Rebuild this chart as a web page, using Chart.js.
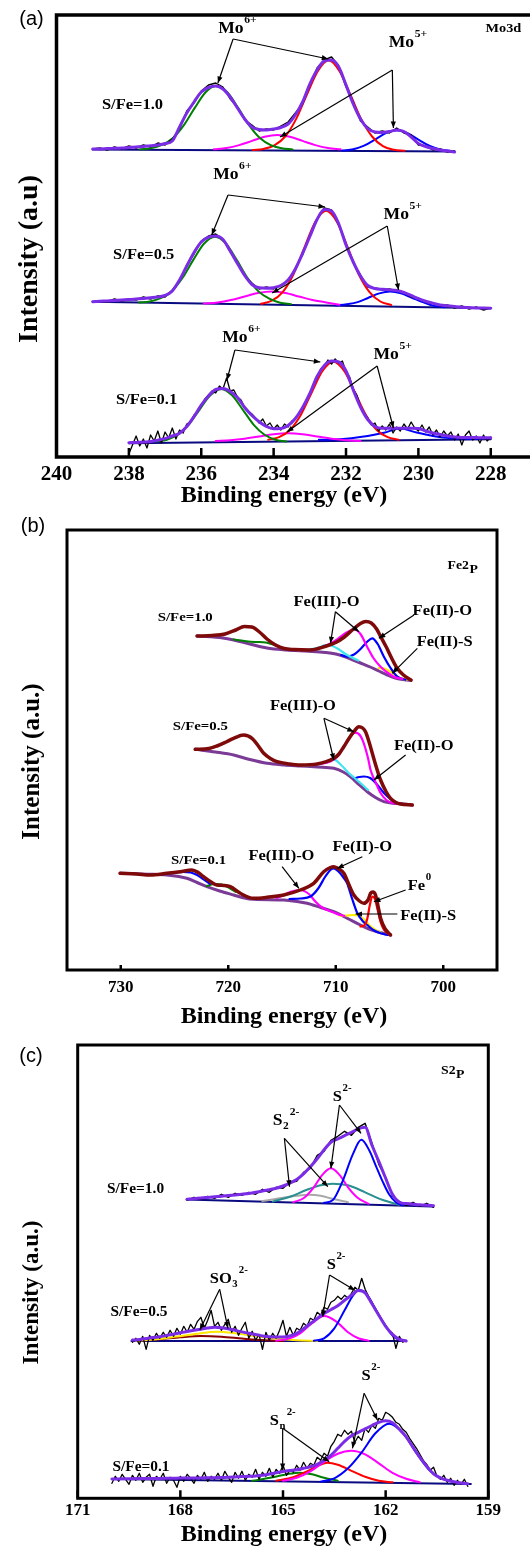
<!DOCTYPE html>
<html>
<head>
<meta charset="utf-8">
<script src="https://cdn.jsdelivr.net/npm/chart.js@4.4.1/dist/chart.umd.min.js"></script>
<style>
html, body { margin:0; padding:0; background:#fff; overflow:hidden; width:530px; height:1550px; }
.panel { position:absolute; left:0; }
</style>
</head>
<body>
<div class="panel" style="top:0;width:540px;height:510px"><canvas id="ca"></canvas></div>
<div class="panel" style="top:500px;width:530px;height:540px"><canvas id="cb"></canvas></div>
<div class="panel" style="top:1040px;width:530px;height:510px"><canvas id="cc"></canvas></div>
<script>
// ---------- (a) Mo3d ----------
var aTicks = [240, 238, 236, 234, 232, 230, 228];
// noisy spectra + envelopes, sampled on a fixed energy step from the start energy
var a1Start = 239.0;
var a1Data = [308,309,307,310,308,311,309,312,310,314,312,318,328,346,354,366,372,374,370,358,350,337,332,326,328,327,331,335,344,353,372,389,397,400,391,370,355,336,330,324,326,324,329,324,322,312,311,307,308,305,306];
var a1Env = [308,308,308.5,308.7,309,309.5,310,310.5,311.3,312,313.5,316,330,344,355,365,369.5,371,368,360,349,338,330,327.5,327,328,329.5,333,342,355,373,387,396,397,390,372,353,338,328.5,325,324.5,325.5,327,325.5,320,313.5,310.5,308.5,307,306,305];
var a1Base = [[239.0,307.5],[229.0,305.5]];
var a1Green = [[237.7,307.6],[237.4,308.7],[237.1,311.8],[236.78,318.9],[236.48,331.8],[236.18,349.1],[235.88,364.8],[235.58,371.3],[235.28,364.8],[234.98,349.1],[234.68,331.8],[234.38,318.9],[234.08,311.8],[233.78,308.7],[233.48,307.6]];
var a1Red = [[234.58,307.1],[234.28,308.1],[233.98,311.6],[233.68,320.5],[233.38,337.9],[233.08,362.5],[232.78,385.9],[232.48,396.8],[232.18,385.9],[231.88,362.5],[231.58,337.9],[231.28,320.5],[230.98,310.8],[230.68,307.3],[230.38,306.3]];
var a1Mag = [[235.65,307.7],[235.3,309],[234.95,311.9],[234.6,316.1],[234.25,320.2],[233.9,322],[233.55,320.2],[233.2,316.1],[232.85,311.9],[232.5,309],[232.15,307.7]];
var a1Blue = [[232.1,306.5],[231.8,307.8],[231.5,311.3],[231.2,317.4],[230.9,323.9],[230.6,326.8],[230.3,323.9],[230.0,317.4],[229.7,311.3],[229.4,307.6],[229.1,306]];

var a2Start = 239.0;
var a2Data = [155,156,155,158,156,158,157,160,158,161,160,167,176,192,203,216,221,223,218,205,194,181,174,168,170,168,172,176,189,202,222,238,249,247,232,213,194,182,170,169,167,168,166,165,160,159,155,154,151,152,149,151,148,150,147,149];
var a2Env = [155.3,155.7,156.1,156.5,157,157.4,158,158.6,159.3,160.1,161.5,166,177,191,204.5,215,219.8,221,217.5,206,193.5,181.5,172.5,169.2,168.8,169.3,171.5,177,188,203.5,220.5,237.5,247.5,246,233,212,195,181,171.5,168.5,167.7,167.2,166.5,164.5,161.5,158.3,155.8,153.8,152,151.2,150.4,149.7,149.4,149.1,148.9,148.7];
var a2Base = [[239.0,155.3],[228.0,148.7]];
var a2Green = [[237.72,154.6],[237.42,155.6],[237.12,158.8],[236.82,165.6],[236.52,179.0],[236.22,197.1],[235.92,213.5],[235.62,220.3],[235.32,213.5],[235.02,197.1],[234.72,179.0],[234.42,165.6],[234.12,158.3],[233.82,154.3],[233.52,152.8]];
var a2Red = [[234.35,153.2],[234.05,156.3],[233.75,164.9],[233.45,182.8],[233.15,209.3],[232.85,235.1],[232.55,246.2],[232.25,235.1],[231.95,209.3],[231.65,182.8],[231.35,164.9],[231.05,155.5],[230.75,152]];
var a2Mag = [[235.93,153.4],[235.55,154.6],[235.18,157.0],[234.8,160.5],[234.43,163.9],[234.05,165.4],[233.68,163.9],[233.3,160.5],[232.93,157.0],[232.55,154.6],[232.18,152.2]];
var a2Blue = [[232.28,151.5],[231.98,152.8],[231.68,154.9],[231.38,159.3],[231.08,163.6],[230.78,165.4],[230.48,163.6],[230.18,159.3],[229.88,154.9],[229.58,151.2],[229.28,149.8]];

var a3Start = 238.0;
var a3Data = [3,12,21,11,18,9,22,16,26,14,
	25,19,29,18,27,24,33,35,42,45,
	51,58,62,66,64,71,68,79,66,67,
	60,57,50,46,43,39,34,38,31,34,
	28,32,27,33,30,36,38,44,48,57,
	63,72,79,88,91,97,93,98,94,96,
	85,80,68,62,51,44,39,32,34,26,
	31,27,33,24,30,26,33,28,35,29,
	26,32,25,30,22,27,20,26,21,25,
	17,23,12,22,26,17,21,14,22,16,
	20];
var a3Env = [14.3,14.6,15,15.4,16.8,18.4,21,23.7,30.5,40.5,52,61,67.5,68.5,65.5,59.5,49.5,41.5,35.3,30.5,28.3,28.5,31.5,38.5,49.5,63.5,80.5,91.5,96,95,86,67,50,37.5,30.5,28.7,28.7,28.7,28.7,28.7,28.5,26,24,22.5,21,20,19.6,19.5,19.4,19.3,19.3];
var a3Base = [[238.0,13.7],[228.0,17.7]];
var a3Green = [[237.25,15.6],[236.95,17.3],[236.65,22.2],[236.35,32.2],[236.05,47.2],[235.75,61.7],[235.45,68],[235.15,61.7],[234.85,47.2],[234.55,32.2],[234.25,22.2],[233.95,17.3],[233.65,15.6]];
var a3Red = [[234.15,17.2],[233.85,19.8],[233.55,27],[233.25,42],[232.95,64.3],[232.65,86],[232.35,95.3],[232.05,86],[231.75,64.3],[231.45,42],[231.15,27],[230.85,19.8],[230.55,17.2]];
var a3Mag = [[235.6,16.1],[235.2,16.8],[234.8,18.3],[234.4,20.6],[234.0,22.8],[233.6,23.7],[233.2,22.8],[232.8,20.6],[232.4,18.3],[232.0,16.8],[231.6,16.1]];
var a3Blue = [[232.75,17.3],[232.3,17.6],[231.85,18.8],[231.4,20.9],[230.95,24.2],[230.5,28.5],[230.05,24.4],[229.6,21.1],[229.15,19.1],[228.7,18.3],[228.25,18.0]];

// ---------- (b) Fe2p ----------
var bTicks = [730, 720, 710, 700];
var b1Env = [[722.9,334],[721.5,334.5],[720.3,336],[719.3,340],[718.5,343.5],[717.8,343],[717.1,338],[716.4,331],[715.6,325],[714.8,321.5],[713.9,320.5],[712.4,320],[711.0,323.5],[710.0,327.5],[709.2,333],[708.4,340.5],[707.7,346.5],[707.2,348.5],[706.7,347],[706.2,341],[705.8,333],[705.3,323],[704.9,314],[704.3,302],[703.7,295],[703.0,290]];
var b1Base = [[722.9,334],[720.5,332],[719.5,330],[718,326],[716.4,322],[714.6,320],[712.5,318.7],[711,317.5],[710,316],[709.2,313.5],[708.5,310.5],[707.7,307],[706.8,303],[706,299],[705.2,295],[704.3,291.5],[703,289.5]];
var b1Green = [[719.5,330.5],[718.5,329],[717.5,328],[716.5,327.5],[715.7,325],[715,322],[714.2,320]];
var b1Cyan = [[713.5,319.3],[712.5,320.3],[711.6,322.5],[710.9,325],[710.3,324],[709.7,320.5],[709.1,316],[708.5,312.5],[707.9,309.5]];
var b1Mag = [[713.5,319.5],[712.5,320],[711.5,322],[710.5,326.5],[709.7,332],[709.0,337.5],[708.3,340.5],[707.7,336],[707.07,323],[706.5,312],[705.83,303.3],[705.2,297.5],[704.6,293.3],[703.8,291]];
var b1Blue = [[709.5,315],[708.93,313.3],[708.3,315.5],[707.7,321],[707.1,328],[706.6,331.7],[706.1,326],[705.52,313.3],[704.9,302],[704.27,293.3],[703.5,290.3]];
var b1Yellow = [[706.0,302],[705.5,301.5],[705.0,299],[704.5,295],[704.0,292],[703.4,290.3]];

var b2Env = [[723.07,220.7],[721.8,221.5],[721.05,224],[720.2,228],[719.5,231.7],[718.57,235],[717.79,231.7],[717.2,224],[716.7,216.7],[716.0,211],[715.46,208.3],[714.3,206],[713.29,205],[711.73,206],[710.18,211.7],[709.7,216],[709.25,223.3],[708.8,231],[708.32,238.3],[707.85,243.3],[707.5,242],[707.23,238.3],[706.9,228],[706.6,216.7],[706.2,202],[705.83,190],[705.3,178],[704.9,171.7],[704.4,167.5],[703.97,166],[702.88,165]];
var b2Base = [[723.07,220.7],[721.2,218],[719.5,215],[718,210.5],[716.39,206.7],[714.8,205],[713.29,204],[711.7,203],[710.18,201.7],[709.3,198],[708.63,193.3],[707.8,185],[707.07,178.3],[706.3,172.5],[705.52,168.3],[704.7,166.8],[703.97,166.3],[702.88,165]];
var b2Mag = [[712.5,205],[711.5,206],[710.5,208.5],[709.8,214],[709.2,224],[708.7,233],[708.16,237.3],[707.7,234],[707.39,226.7],[707.0,212],[706.76,200],[706.3,188],[705.83,177],[705.3,170],[704.75,167],[704,166.2]];
var b2Cyan = [[713,204.5],[712,205],[711,207.5],[710.2,210.7],[709.5,205],[708.8,197],[708.2,191.5],[707.6,186],[707,180]];
var b2Blue = [[708.3,191.5],[707.8,193],[707.39,193.5],[706.8,192],[706.2,186],[705.52,177],[704.9,171],[704.3,167],[703.5,165.5]];

var b3Env = [[730.06,96.7],[728.5,96],[727.26,95],[725.71,96.7],[724.47,98.3],[723.38,100],[722.8,97.5],[722.3,93.3],[721.6,88],[721.05,85],[720.4,84.5],[719.81,83.3],[718.88,76.7],[717.64,71.7],[716.39,72.7],[714.84,75],[713.29,80],[712.05,86.7],[711.12,98.3],[710.5,102.5],[710.18,103.3],[709.7,101],[709.25,96.7],[708.8,86],[708.32,75],[707.8,69],[707.39,66.7],[707.0,70],[706.76,76.7],[706.55,78],[706.3,75],[706.05,63],[705.83,51.7],[705.4,41],[704.9,35]];
var b3Base = [[730.06,96.7],[727.5,95.8],[725.71,95],[724.6,93.5],[723.85,91.7],[722.9,87.5],[721.98,83.3],[720.8,79],[719.5,75],[718.5,72],[717.64,70.7],[714.84,70],[713.6,68.5],[712.67,66.7],[711.4,62.5],[710.18,58.3],[708.9,51.5],[707.7,45],[706.9,41],[706.14,38.3],[704.9,35]];
var b3Sat = [[726.3,95.5],[725.6,96.5],[724.9,97.5],[724.2,98],[723.5,97.5],[722.9,95],[722.3,90.5],[721.7,86]];
var b3Green = [[722.0,84],[721.3,86],[720.6,85.5],[719.9,82],[719.3,78]];
var b3Mag = [[715.5,72],[714.8,75],[714.2,78.3],[713.3,80],[712.5,76],[711.9,68.5],[711.4,63.5],[710.8,60],[710.2,57.5],[709.6,55],[709.2,54.2]];
var b3Blue = [[714.3,71],[713.3,71.5],[712.35,73.5],[711.6,82],[711,93],[710.5,100],[710.18,101.7],[709.7,98],[709.25,92],[708.94,86.7],[708.5,72],[708.0,57],[707.5,49],[707.07,45],[706.5,40],[705.83,36.7],[705.2,35]];
var b3Yellow = [[709.6,54],[709.0,54.5],[708.4,55],[707.9,54.5],[707.4,51],[706.9,45],[706.3,40],[705.8,37]];
var b3Red = [[707.7,43.5],[707.3,45],[707.05,52],[706.85,64],[706.6,73.5],[706.35,71],[706.1,60],[705.8,47],[705.5,40],[705.1,36]];

// ---------- (c) S2p ----------
var cTicks = [171, 168, 165, 162, 159];
var c1Start = 167.8;
var c1Data = [298,301,299,302,300,304,301,305,303,306,304,309,306,311,310,316,317,326,330,343,347,358,362,367,363,371,375,355,334,321,302,297,293,296,292,295,291];
var c1Env = [299,299.6,300.3,300.9,301.5,302,302.7,303.4,304.1,304.9,306,307.3,308.6,310,312.3,315.2,318.8,324.5,331.5,339.5,348.5,356,359.3,362.7,366,369.5,371,353,337,320,304,296,294.7,294,293.5,293,292.6];
var c1Base = [[167.82,298.8],[160.63,291.8]];
var c1Blue = [[163.8,295.5],[163.55,298],[163.26,317],[162.96,344],[162.71,358.5],[162.48,348],[162.28,332],[162.09,317],[161.9,304],[161.7,296],[161.5,293]];
var c1Mag = [[164.7,296.2],[164.4,300],[164.1,311],[163.85,323.5],[163.6,330],[163.35,323.5],[163.1,311],[162.8,300],[162.5,294.5]];
var c1Teal = [[165.3,296.7],[164.8,301.5],[164.3,308.5],[163.9,313],[163.55,314.6],[163.1,313],[162.6,306],[162.1,298.5],[161.6,293.5]];
var c1Gray = [[165.6,297.2],[165.1,300],[164.6,302.5],[164.23,303.5],[163.9,302.5],[163.5,299],[163.1,296]];

var c2Start = 169.4;
var c2Data = [156,160,154,162,149,163,158,165,160,166,
	161,168,162,170,164,172,166,174,169,177,
	181,170,178,188,172,176,168,174,179,166,
	172,163,170,176,160,167,158,164,149,166,
	158,165,160,168,178,162,171,163,170,168,
	175,172,180,178,186,183,191,189,196,198,
	202,199,203,200,205,211,208,220,209,202,
	196,190,184,178,173,168,165,150,162,156,
	158];
var c2Env = [158.2,158.8,159.8,160.8,161.6,162.9,164.2,165.5,166.8,168,169.1,170.2,171,170.6,169.6,168,166.4,165,163.8,162.4,161.6,161.4,161.4,162.3,165,169.5,174.8,179.8,184.8,188.6,192.6,198,203,207.8,205.5,194.5,183,172,164,159,157.3];
var c2Base = [[169.43,157.3],[161.4,157.3]];
var c2Yellow = [[169.3,157.5],[168.7,159],[168.1,161.7],[167.5,164.5],[166.95,166.5],[166.4,165],[165.8,162],[165.2,159.5],[164.6,158],[164.0,157.3]];
var c2DkRed = [[169.2,157.5],[168.6,159],[168.0,161],[167.4,162.3],[166.8,161.6],[166.2,159.8],[165.6,158.2],[165.0,157.4]];
var c2Mag = [[165.2,157.5],[164.8,160],[164.5,165],[164.15,175],[163.8,182.3],[163.45,177],[163.1,166],[162.8,160],[162.5,157.6]];
var c2Blue = [[164.1,157.5],[163.8,160],[163.5,170],[163.2,188],[162.95,203],[162.77,208.3],[162.55,204],[162.3,189],[162.0,172],[161.75,161],[161.5,157.6]];

var c3Start = 170.0;
var c3Data = [15,22,17,24,19,14,23,18,25,16,
	21,24,12,22,19,25,15,21,18,11,
	22,17,24,20,15,23,19,26,17,22,
	19,25,18,27,21,16,26,20,27,18,
	24,21,29,19,26,22,30,21,29,25,
	33,23,28,26,33,28,36,30,35,33,
	41,38,45,42,52,57,64,62,68,64,
	67,56,62,58,70,66,73,70,80,78,
	86,84,81,76,74,69,66,60,55,50,
	44,38,34,28,31,22,19,23,16,20,
	13,18,14,19,12];
var c3Env = [19.3,19.4,19.5,19.6,19.7,19.8,19.8,19.9,20,20.1,20.2,20.2,20.3,20.4,20.5,20.6,20.8,21,21.3,21.7,22,22.4,23,24.2,25.5,26.7,27.7,28.6,30,31.5,34,38,43,50,57,62.5,66,69.5,72.8,76,77.5,75.6,69,61.5,51,41,32,24.5,20.5,18,16.5,15.3,14.5];
var c3Base = [[169.96,19.3],[159.51,14.3]];
var c3Blue = [[163.9,16.6],[163.5,20],[163.1,30],[162.7,46],[162.3,65],[161.9,74.5],[161.5,65.5],[161.1,45.5],[160.7,27.5],[160.3,19],[159.9,15.5]];
var c3Mag = [[165.0,17.5],[164.6,20.5],[164.2,27],[163.8,36.5],[163.4,44.5],[163.01,47.5],[162.6,44],[162.2,35],[161.8,25.5],[161.4,19.5],[161.0,16]];
var c3Red = [[165.2,17.5],[164.7,21],[164.3,27],[163.95,33],[163.7,35.5],[163.4,33.5],[163.0,27.5],[162.6,21.5],[162.2,17.5],[161.8,16]];
var c3Green = [[165.9,17.5],[165.3,21],[164.85,24.3],[164.52,25.6],[164.15,24],[163.8,20.5],[163.4,17.5]];

// ---------- drawing helpers ----------
var SERIF = '"Liberation Serif", "Times New Roman", serif';
var VIOLET = '#7b2ce6', NAVY = '#0a0a80';
var STRETCH = 1.1;   // the printed labels are a little wider than the font

function grid(start, step, vals) {
	return vals.map(function (v, i) { return { x: +(start - i * step).toFixed(2), y: v }; });
}
function pts(arr) {
	return arr.map(function (p) { return { x: p[0], y: p[1] }; });
}
function line(data, color, width, smooth) {
	return {
		data: data, borderColor: color, borderWidth: width, pointRadius: 0, fill: false,
		tension: 0, cubicInterpolationMode: smooth ? 'monotone' : 'default',
		borderJoinStyle: 'round', borderCapStyle: 'round'
	};
}

function drawLabel(ctx, x, y, l, size) {
	ctx.save();
	ctx.translate(x, y);
	ctx.scale(STRETCH, 1);
	ctx.font = 'bold ' + size + 'px ' + SERIF;
	ctx.textAlign = 'center';
	ctx.textBaseline = 'middle';
	ctx.fillText(l.t, 0, 0);
	var cx = ctx.measureText(l.t).width / 2 + 0.5;
	ctx.textAlign = 'left';
	if (l.sub) {
		var s = size * (l.subScale || 0.65);
		ctx.font = 'bold ' + s + 'px ' + SERIF;
		ctx.fillText(l.sub, cx, size * (l.subScale ? 0.3 : 0.35));
		cx += ctx.measureText(l.sub).width + 1;
	}
	if (l.sup) {
		ctx.font = 'bold ' + (size * 0.66) + 'px ' + SERIF;
		ctx.fillText(l.sup, cx, -size * 0.55);
	}
	ctx.restore();
}

function makeDecor(d) {
	return {
		id: 'decor',
		afterDraw: function (chart) {
			var ctx = chart.ctx, a = chart.chartArea;
			var xs = chart.scales.x, ys = chart.scales.y;
			ctx.save();
			ctx.strokeStyle = '#000';
			ctx.fillStyle = '#000';
			// frame
			ctx.lineWidth = d.frame;
			ctx.strokeRect(a.left, a.top, a.right - a.left, a.bottom - a.top);
			// inward tick marks
			ctx.lineWidth = 2.5;
			ctx.beginPath();
			xs.ticks.forEach(function (t) {
				var p = xs.getPixelForValue(t.value);
				ctx.moveTo(p, a.bottom);
				ctx.lineTo(p, a.bottom - d.tick);
			});
			ctx.stroke();
			// arrows
			ctx.lineWidth = 1.2;
			d.arrows.forEach(function (ar) {
				var fx = xs.getPixelForValue(ar.from[0]), fy = ys.getPixelForValue(ar.from[1]);
				ar.to.forEach(function (t) {
					var tx = xs.getPixelForValue(t[0]), ty = ys.getPixelForValue(t[1]);
					ctx.beginPath(); ctx.moveTo(fx, fy); ctx.lineTo(tx, ty); ctx.stroke();
					var ang = Math.atan2(ty - fy, tx - fx), c = Math.cos(ang), s = Math.sin(ang);
					ctx.beginPath();
					ctx.moveTo(tx, ty);
					ctx.lineTo(tx - 6.5 * c + 2.6 * s, ty - 6.5 * s - 2.6 * c);
					ctx.lineTo(tx - 6.5 * c - 2.6 * s, ty - 6.5 * s + 2.6 * c);
					ctx.closePath(); ctx.fill();
				});
			});
			// annotation text
			d.labels.forEach(function (l) {
				drawLabel(ctx, xs.getPixelForValue(l.e), ys.getPixelForValue(l.v), l, l.size || d.labelSize);
			});
			// axis titles
			ctx.textAlign = 'center';
			ctx.textBaseline = 'middle';
			ctx.font = 'bold ' + d.xTitle.size + 'px ' + SERIF;
			ctx.fillText(d.xTitle.t, d.xTitle.x, d.xTitle.y);
			ctx.save();
			ctx.translate(d.yTitle.x, d.yTitle.y);
			ctx.rotate(-Math.PI / 2);
			ctx.font = 'bold ' + d.yTitle.size + 'px ' + SERIF;
			ctx.fillText(d.yTitle.t, 0, 0);
			ctx.restore();
			// panel tag
			ctx.font = '20px "Liberation Sans", Arial, sans-serif';
			ctx.fillText(d.tag.t, d.tag.x, d.tag.y);
			ctx.restore();
		}
	};
}

function makeChart(id, c) {
	return new Chart(document.getElementById(id), {
		type: 'line',
		data: { datasets: c.datasets },
		options: {
			responsive: true, maintainAspectRatio: false, animation: false, devicePixelRatio: 1,
			layout: { padding: c.pad },
			plugins: { legend: { display: false }, tooltip: { enabled: false } },
			scales: {
				x: {
					type: 'linear', reverse: true, min: c.xmin, max: c.xmax,
					afterBuildTicks: function (s) { s.ticks = c.ticks.map(function (v) { return { value: v }; }); },
					afterFit: function (s) { s.height = 40; },
					grid: { display: false, drawTicks: false },
					border: { display: false },
					ticks: {
						font: { family: SERIF, size: c.tickSize, weight: 'bold' }, color: '#000',
						padding: c.tickPad, maxRotation: 0, autoSkip: false,
						callback: function (v) { return String(v); }
					}
				},
				y: { display: false, min: 0, max: c.ymax }
			}
		},
		plugins: [makeDecor(c.decor)]
	});
}

// ---------- panel (a) ----------
makeChart('ca', {
	xmin: 226.75, xmax: 240, ymax: 442, ticks: aTicks, tickSize: 21, tickPad: 5,
	pad: { left: 56.5, top: 15, right: 4, bottom: 13 },
	datasets: [
		line(grid(a1Start, 0.2, a1Env), VIOLET, 3, true),
		line(grid(a1Start, 0.2, a1Data), '#000', 1.4, false),
		line(pts(a1Green), '#008000', 2, true),
		line(pts(a1Red), '#ff0000', 2, true),
		line(pts(a1Mag), '#ff00ff', 2, true),
		line(pts(a1Blue), '#0000ff', 2, true),
		line(pts(a1Base), NAVY, 2, false),
		line(grid(a2Start, 0.2, a2Env), VIOLET, 3, true),
		line(grid(a2Start, 0.2, a2Data), '#000', 1.4, false),
		line(pts(a2Green), '#008000', 2, true),
		line(pts(a2Red), '#ff0000', 2, true),
		line(pts(a2Mag), '#ff00ff', 2, true),
		line(pts(a2Blue), '#0000ff', 2, true),
		line(pts(a2Base), NAVY, 2, false),
		line(grid(a3Start, 0.2, a3Env), VIOLET, 3, true),
		line(grid(a3Start, 0.1, a3Data), '#000', 1.3, false),
		line(pts(a3Green), '#008000', 2, true),
		line(pts(a3Red), '#ff0000', 2, true),
		line(pts(a3Mag), '#ff00ff', 2, true),
		line(pts(a3Blue), '#0000ff', 2, true),
		line(pts(a3Base), NAVY, 2, false)
	],
	decor: {
		frame: 3.5, tick: 9, labelSize: 16,
		xTitle: { t: 'Binding energy (eV)', x: 284, y: 496, size: 24 },
		yTitle: { t: 'Intensity (a.u)', x: 30, y: 259, size: 28 },
		tag: { t: '(a)', x: 31.5, y: 19 },
		labels: [
			{ e: 235.18, v: 428, t: 'Mo', sup: '6+' },
			{ e: 230.47, v: 414, t: 'Mo', sup: '5+' },
			{ e: 227.65, v: 428, t: 'Mo3d', size: 13 },
			{ e: 237.9, v: 352, t: 'S/Fe=1.0', size: 15 },
			{ e: 235.32, v: 282, t: 'Mo', sup: '6+' },
			{ e: 230.61, v: 242, t: 'Mo', sup: '5+' },
			{ e: 237.59, v: 202, t: 'S/Fe=0.5', size: 15 },
			{ e: 235.07, v: 119, t: 'Mo', sup: '6+' },
			{ e: 230.89, v: 102, t: 'Mo', sup: '5+' },
			{ e: 237.51, v: 57, t: 'S/Fe=0.1', size: 15 }
		],
		arrows: [
			{ from: [235.12, 418], to: [[235.54, 374], [232.49, 398]] },
			{ from: [230.72, 387], to: [[230.69, 329], [233.82, 320]] },
			{ from: [235.26, 262], to: [[235.71, 222], [232.58, 250]] },
			{ from: [230.86, 231], to: [[230.55, 167], [234.04, 164]] },
			{ from: [235.07, 107], to: [[235.29, 77], [232.71, 95]] },
			{ from: [231.14, 91], to: [[230.69, 29], [233.63, 25]] }
		]
	}
});

// ---------- panel (b) ----------
var MAROON = '#7f0a0a', PURPLE = '#7a3a96';
makeChart('cb', {
	xmin: 695, xmax: 735, ymax: 440, ticks: bTicks, tickSize: 17, tickPad: 7.3,
	pad: { left: 67, top: 30, right: 33, bottom: 30 },
	datasets: [
		line(pts(b1Env), MAROON, 3.5, true),
		line(pts(b1Mag), '#ff00ff', 2.2, true),
		line(pts(b1Cyan), '#3ee6f0', 2.2, true),
		line(pts(b1Blue), '#0000ff', 2.2, true),
		line(pts(b1Yellow), '#ffee00', 2.2, true),
		line(pts(b1Green), '#008000', 2, true),
		line(pts(b1Base), PURPLE, 3, true),
		line(pts(b2Env), MAROON, 3.5, true),
		line(pts(b2Mag), '#ff00ff', 2.2, true),
		line(pts(b2Cyan), '#3ee6f0', 2.2, true),
		line(pts(b2Blue), '#0000ff', 2.2, true),
		line(pts(b2Base), PURPLE, 3, true),
		line(pts(b3Env), MAROON, 3.5, true),
		line(pts(b3Red), '#ff0000', 2.2, true),
		line(pts(b3Blue), '#0000ff', 2.2, true),
		line(pts(b3Sat), '#0000ff', 2, true),
		line(pts(b3Mag), '#ff00ff', 2.2, true),
		line(pts(b3Yellow), '#ffee00', 2.2, true),
		line(pts(b3Green), '#008000', 2, true),
		line(pts(b3Base), PURPLE, 3, true)
	],
	decor: {
		frame: 3, tick: 5, labelSize: 15,
		xTitle: { t: 'Binding energy (eV)', x: 284, y: 517, size: 24 },
		yTitle: { t: 'Intensity (a.u.)', x: 33, y: 261.5, size: 25 },
		tag: { t: '(b)', x: 33, y: 26 },
		labels: [
			{ e: 698.6, v: 404, t: 'Fe2', sub: 'P', size: 12.5, subScale: 1 },
			{ e: 724.0, v: 352.5, t: 'S/Fe=1.0', size: 13.5 },
			{ e: 710.86, v: 368, t: 'Fe(III)-O' },
			{ e: 700.08, v: 359, t: 'Fe(II)-O' },
			{ e: 699.87, v: 327.5, t: 'Fe(II)-S' },
			{ e: 722.6, v: 243, t: 'S/Fe=0.5', size: 13.5 },
			{ e: 713.05, v: 263.5, t: 'Fe(III)-O' },
			{ e: 701.82, v: 224, t: 'Fe(II)-O' },
			{ e: 722.76, v: 109, t: 'S/Fe=0.1', size: 13.5 },
			{ e: 715.05, v: 114, t: 'Fe(III)-O' },
			{ e: 707.53, v: 122.5, t: 'Fe(II)-O' },
			{ e: 702.5, v: 84, t: 'Fe', sup: '0' },
			{ e: 701.4, v: 54, t: 'Fe(II)-S' }
		],
		arrows: [
			{ from: [710.03, 358.3], to: [[710.49, 326.7], [707.85, 338.3]] },
			{ from: [702.72, 355], to: [[705.99, 331.7]] },
			{ from: [702.41, 321.7], to: [[704.74, 296.7]] },
			{ from: [711.1, 251.7], to: [[710.18, 210], [708.32, 238.3]] },
			{ from: [703.5, 215], to: [[706.45, 190]] },
			{ from: [714.99, 103.3], to: [[713.43, 81.7]] },
			{ from: [707.53, 113.3], to: [[709.86, 101.7]] },
			{ from: [703.5, 80], to: [[706.45, 68.3]] },
			{ from: [704.27, 56], to: [[708.16, 56]] }
		]
	}
});

// ---------- panel (c) ----------
makeChart('cc', {
	xmin: 159, xmax: 171, ymax: 453.3, ticks: cTicks, tickSize: 17, tickPad: 2.3,
	pad: { left: 77.7, top: 5, right: 41.7, bottom: 11.7 },
	datasets: [
		line(grid(c1Start, 0.2, c1Env), VIOLET, 3, true),
		line(grid(c1Start, 0.2, c1Data), '#000', 1.4, false),
		line(pts(c1Blue), '#0000ff', 2, true),
		line(pts(c1Mag), '#ff00ff', 2, true),
		line(pts(c1Teal), '#2a8f8f', 2, true),
		line(pts(c1Gray), '#a8a8a8', 2, true),
		line(pts(c1Base), NAVY, 2, false),
		line(grid(c2Start, 0.2, c2Env), VIOLET, 3, true),
		line(grid(c2Start, 0.1, c2Data), '#000', 1.3, false),
		line(pts(c2Blue), '#0000ff', 2, true),
		line(pts(c2Mag), '#ff00ff', 2, true),
		line(pts(c2Yellow), '#ffe600', 2, true),
		line(pts(c2DkRed), '#8b0000', 2, true),
		line(pts(c2Base), NAVY, 2, false),
		line(grid(c3Start, 0.2, c3Env), VIOLET, 3, true),
		line(grid(c3Start, 0.1, c3Data), '#000', 1.3, false),
		line(pts(c3Blue), '#0000ff', 2, true),
		line(pts(c3Mag), '#ff00ff', 2, true),
		line(pts(c3Red), '#ff0000', 2, true),
		line(pts(c3Green), '#008000', 2, true),
		line(pts(c3Base), NAVY, 2, false)
	],
	decor: {
		frame: 3, tick: 8, labelSize: 15,
		xTitle: { t: 'Binding energy (eV)', x: 284, y: 495, size: 24 },
		yTitle: { t: 'Intensity (a.u.)', x: 32, y: 252.5, size: 23 },
		tag: { t: '(c)', x: 31, y: 16 },
		labels: [
			{ e: 160.17, v: 427.3, t: 'S2', sub: 'P', size: 12.5, subScale: 1 },
			{ e: 169.31, v: 309.3, t: 'S/Fe=1.0', size: 14 },
			{ e: 165.16, v: 377.3, t: 'S', sub: '2', sup: '2-', size: 16 },
			{ e: 163.41, v: 401.3, t: 'S', sup: '2-' },
			{ e: 169.21, v: 186.3, t: 'S/Fe=0.5', size: 14 },
			{ e: 166.82, v: 219.3, t: 'SO', sub: '3', sup: '2-' },
			{ e: 163.59, v: 233.3, t: 'S', sup: '2-' },
			{ e: 169.15, v: 30.8, t: 'S/Fe=0.1', size: 14 },
			{ e: 165.25, v: 77.3, t: 'S', sub: 'n', sup: '2-' },
			{ e: 162.57, v: 122.3, t: 'S', sup: '2-' }
		],
		arrows: [
			{ from: [164.96, 360], to: [[164.81, 311.6], [163.69, 311.6]] },
			{ from: [163.35, 393.3], to: [[163.6, 330], [162.72, 365]] },
			{ from: [166.85, 209], to: [[167.43, 168.3], [166.61, 170]] },
			{ from: [163.64, 223.3], to: [[163.84, 181.6], [162.9, 208]] },
			{ from: [165.01, 70], to: [[165.01, 28.3], [163.65, 36.6]] },
			{ from: [162.63, 105], to: [[162.97, 50], [162.24, 78.3]] }
		]
	}
});
</script>
</body>
</html>
